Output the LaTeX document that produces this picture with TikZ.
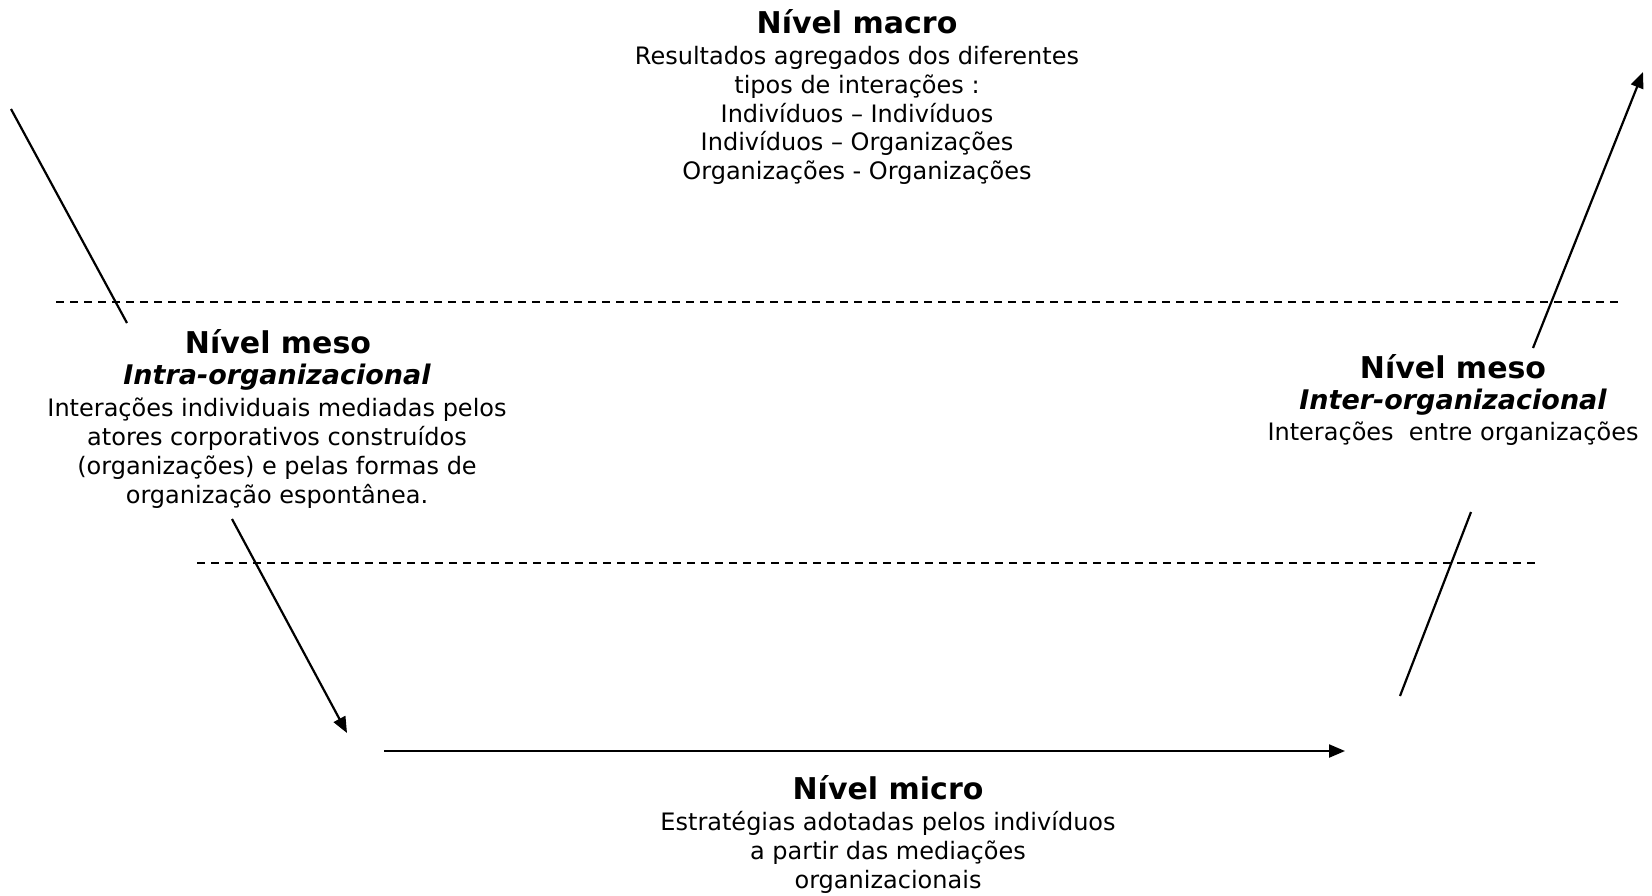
\documentclass[tikz,border=0pt]{standalone}
\usepackage{fontspec}
\setmainfont{DejaVu Sans}
\usetikzlibrary{arrows.meta}
\begin{document}
\begin{tikzpicture}[x=1pt,y=-1pt,
  body/.style={align=center,inner sep=0pt,font=\fontsize{24}{28.8}\selectfont},
  ttl/.style={inner sep=0pt,font=\fontsize{30}{34}\selectfont\bfseries},
  sub/.style={inner sep=0pt,font=\fontsize{27}{30}\selectfont\bfseries\itshape},
  conn/.style={line width=2.2pt},
  arr/.style={conn,-{Triangle[length=16pt,width=13pt]}},
  sep/.style={line width=1.3pt,dash pattern=on 8pt off 6pt}]
\useasboundingbox (0,0) rectangle (1652,895);
% macro
\node[ttl] (macT) at (857,22) {Nível macro};
\node[body,anchor=north] (macB) at (857,46) {Resultados agregados dos diferentes\\tipos de interações :\\Indivíduos – Indivíduos\\Indivíduos – Organizações\\Organizações - Organizações};
% meso left
\node[ttl] (mlT) at (278,342) {Nível meso};
\node[sub] (mlS) at (277,377) {Intra-organizacional};
\node[body,anchor=north] (mlB) at (277,398) {Interações individuais mediadas pelos\\atores corporativos construídos\\(organizações) e pelas formas de\\organização espontânea.};
% meso right
\node[ttl] (mrT) at (1453,367) {Nível meso};
\node[sub] (mrS) at (1453,402) {Inter-organizacional};
\node[body] (mrB) at (1453,434) {Interações\ \ entre organizações};
% micro
\node[ttl] (miT) at (888,788) {Nível micro};
\node[body,anchor=north] (miB) at (888,811) {Estratégias adotadas pelos indivíduos\\a partir das mediações\\organizacionais};
% coordinates
\coordinate (l1a) at (11,109);
\coordinate (l1b) at (127,323);
\coordinate (l2a) at (232,519);
\coordinate (l2b) at (347,733);
\coordinate (h1) at (384,751);
\coordinate (h2) at (1345,751);
\coordinate (r1a) at (1400,696);
\coordinate (r1b) at (1471,512);
\coordinate (r2a) at (1533,348);
\coordinate (r2b) at (1643,72);
\coordinate (d1a) at (56,302);
\coordinate (d1b) at (1619,302);
\coordinate (d2a) at (197,563);
\coordinate (d2b) at (1540,563);
% lines
\draw[sep] (d1a) -- (d1b);
\draw[sep] (d2a) -- (d2b);
\draw[conn] (l1a) -- (l1b);
\draw[arr] (l2a) -- (l2b);
\draw[arr] (h1) -- (h2);
\draw[conn] (r1a) -- (r1b);
\draw[arr] (r2a) -- (r2b);
\end{tikzpicture}
\end{document}
